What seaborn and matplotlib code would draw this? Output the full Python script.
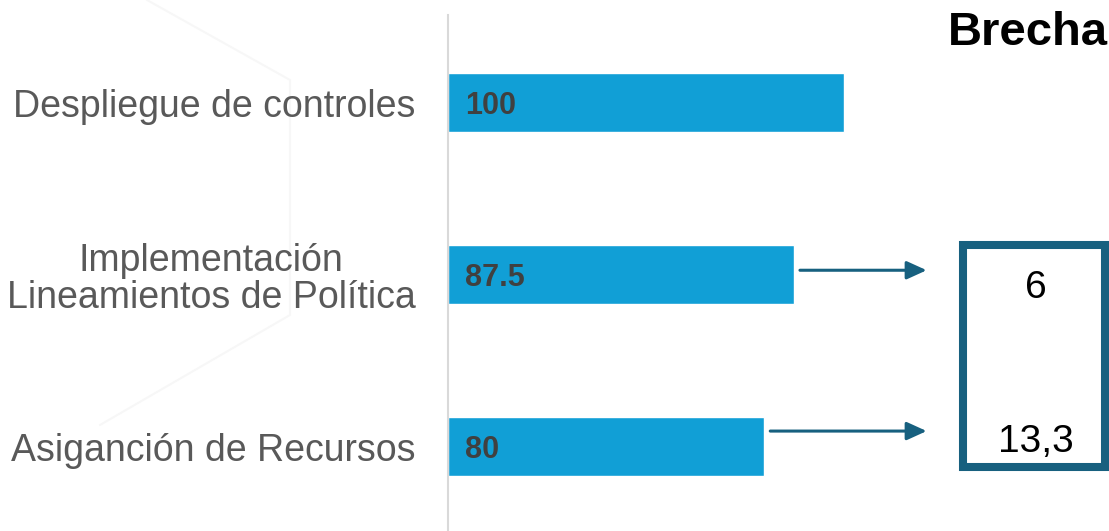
import matplotlib
matplotlib.use('Agg')
import matplotlib.pyplot as plt
import seaborn as sns
from matplotlib.patches import Rectangle

categorias = ['Despliegue de controles',
              'Implementación\nLineamientos de Política',
              'Asiganción de Recursos']
valores = [100, 87.5, 80]
brechas = ['6', '13,3']

sns.set_style('white')
plt.rcParams['font.family'] = ['Liberation Sans', 'DejaVu Sans']

W, H = 1109, 531
fig = plt.figure(figsize=(W / 100, H / 100), dpi=100)

# fondo decorativo muy tenue
bg = fig.add_axes([0, 0, 1, 1])
bg.set_xlim(0, W)
bg.set_ylim(H, 0)
bg.axis('off')
bg.plot([147, 290, 290, 100], [0, 80, 315, 425], color='#f7f7f7', lw=1.5)

ax = fig.add_axes([447.5 / W, 0, (W - 447.5) / W, 516 / H])
sns.barplot(x=valores, y=categorias, orient='h', color='#119FD6',
            width=0.343, saturation=1, ax=ax)
ax.set_xlim(0, (W - 447.5) / 3.96)
ax.set_ylim(2.491, -0.509)
ax.set_xticks([])
ax.set_xlabel('')
ax.set_ylabel('')
for s in ['top', 'right', 'bottom']:
    ax.spines[s].set_visible(False)
ax.spines['left'].set_color('#d9d9d9')
ax.spines['left'].set_linewidth(1.5)
ax.tick_params(axis='y', length=0, pad=23, labelsize=27, labelcolor='#595959')
for t in ax.get_yticklabels():
    t.set_multialignment('center')
    t.set_linespacing(1.05)

for i, v in enumerate(valores):
    ax.text(4.5, i + 0.02, f'{v:g}', ha='left', va='center',
            fontsize=22, fontweight='bold', color='#404040')

# flechas hacia la brecha
flecha = '#17607F'
for i, dy in [(1, -0.025), (2, -0.09)]:
    ax.annotate('', xy=(121, i + dy), xytext=(valores[i] + 1.5, i + dy),
                arrowprops=dict(arrowstyle='-|>,head_length=0.55,head_width=0.25',
                                color=flecha, lw=2.2,
                                mutation_scale=22, shrinkA=0, shrinkB=0))

fig.add_artist(Rectangle((963 / W, 1 - 467 / H), (1105 - 963) / W, (467 - 245) / H,
                         transform=fig.transFigure, fill=False,
                         edgecolor=flecha, lw=5.8))
fig.text(1036 / W, 1 - 298 / H, brechas[0], ha='center', va='baseline',
         fontsize=28, color='black')
fig.text(1036 / W, 1 - 452 / H, brechas[1], ha='center', va='baseline',
         fontsize=28, color='black')
fig.text(1108 / W, 1 - 45 / H, 'Brecha', ha='right', va='baseline',
         fontsize=34, fontweight='bold', color='black')

fig.savefig('out.png', dpi=100)
